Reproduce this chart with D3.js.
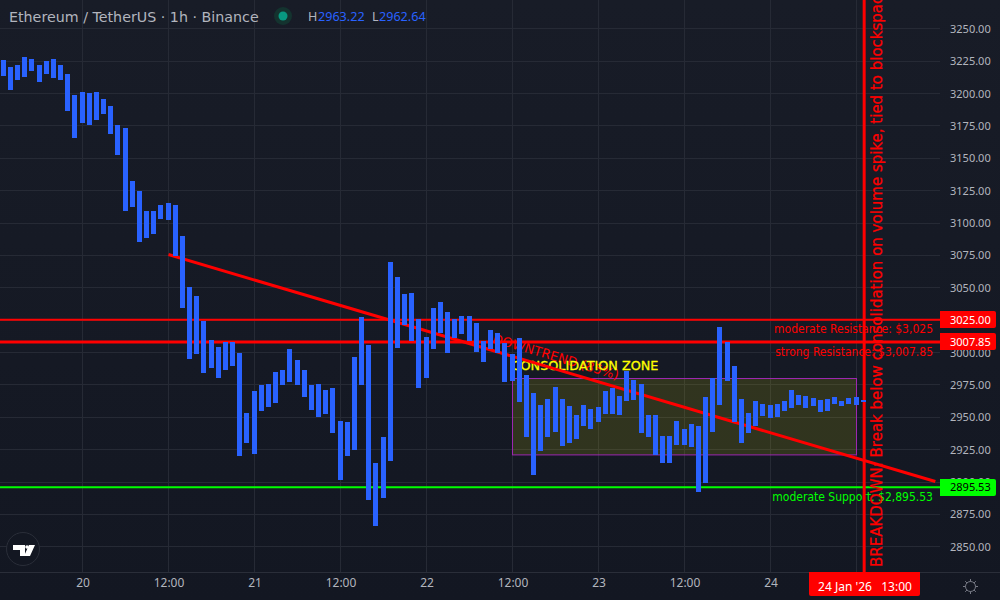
<!DOCTYPE html>
<html><head><meta charset="utf-8">
<style>html,body{margin:0;padding:0;background:#131722;overflow:hidden}svg{display:block}
text{font-family:"Noto Sans",sans-serif}
.dj{font-family:"DejaVu Sans",sans-serif}
.djc{font-family:"DejaVu Sans Condensed","DejaVu Sans",sans-serif}
.axis path,.axis line{display:none}
</style>
<script src="https://cdn.jsdelivr.net/npm/d3@7/dist/d3.min.js"></script>
</head><body><svg id="c" width="1000" height="600"></svg>
<script>
const barHigh=[3225.5,3220.1,3221.7,3227.8,3226.3,3221.7,3224.7,3226.3,3221.7,3214.7,3198.5,3200.8,3200.0,3200.8,3195.4,3190.0,3175.3,3173.0,3132.1,3124.4,3108.9,3108.9,3113.5,3115.1,3113.5,3089.6,3050.2,3043.3,3024.0,3009.3,3003.9,3007.8,3007.8,2999.3,2952.9,2969.9,2974.6,2975.3,2984.6,2986.1,3002.3,2993.8,2986.1,2974.6,2975.3,2970.7,2972.2,2946.8,2946.0,2996.2,3027.1,3005.4,2914.3,2934.4,3069.5,3057.9,3044.8,3045.6,3025.5,3011.6,3034.0,3038.6,3030.9,3025.5,3027.8,3027.8,3022.4,3008.5,3017.0,3014.7,3007.0,2998.5,3010.8,2982.3,2968.4,2959.1,2963.8,2973.0,2963.8,2958.3,2951.4,2959.1,2956.0,2957.6,2969.9,2972.2,2966.1,2985.4,2978.4,2975.3,2951.4,2951.4,2935.2,2935.2,2946.8,2940.6,2944.4,2942.9,2965.3,2980.0,3019.3,3007.8,2989.2,2963.8,2952.9,2962.2,2959.9,2959.1,2959.9,2962.2,2970.7,2966.8,2966.1,2964.5,2963.0,2963.8,2965.3,2962.2,2964.5,2965.3,2963.22];
const barLow=[3213.2,3202.3,3210.1,3212.4,3217.0,3208.5,3214.7,3211.6,3210.1,3186.1,3165.3,3176.9,3175.3,3179.2,3183.8,3168.4,3152.2,3108.9,3112.0,3085.0,3088.1,3091.2,3102.7,3102.0,3074.4,3034.0,2994.6,2998.5,2983.8,2987.7,2980.0,2986.1,2989.2,2919.7,2929.8,2921.3,2954.5,2957.6,2960.7,2974.6,2976.9,2974.6,2965.3,2955.2,2949.8,2952.2,2937.5,2901.2,2919.7,2924.4,2974.6,2885.7,2865.7,2887.3,2915.8,3003.1,3020.9,3008.5,2972.2,2980.0,3002.3,3014.7,2999.3,3010.8,3013.9,3008.5,3000.0,2992.3,3002.3,2999.3,2976.9,2977.6,2961.4,2934.4,2905.0,2923.6,2934.4,2938.2,2927.5,2929.8,2932.8,2942.9,2940.6,2946.0,2952.2,2952.2,2951.4,2962.2,2963.0,2937.5,2934.4,2920.5,2914.3,2914.3,2928.2,2928.2,2926.7,2891.9,2898.9,2938.2,2959.1,2977.6,2946.0,2929.8,2937.5,2942.9,2950.6,2949.1,2949.9,2954.5,2956.8,2959.1,2956.8,2958.3,2953.7,2954.5,2959.9,2958.3,2959.9,2959.1,2962.64];
const priceTicks=[3250,3225,3200,3175,3150,3125,3100,3075,3050,3025,3000,2975,2950,2925,2900,2875,2850];
const timeTickBars=[11,23,35,47,59,71,83,95,107,119];
const timeTickLabels=["20","12:00","21","12:00","22","12:00","23","12:00","24",""];
const levelPrices=[3025,3007.85,2895.53];
const levelNames=["moderate Resistance: $3,025","strong Resistance: $3,007.85","moderate Support: $2,895.53"];
const levelTags=["3025.00","3007.85","2895.53"];
const trendBars=[23,130];
const trendPrices=[3075.3,2900];
const zoneBars=[71,119];
const zonePrices=[2980,2921];
const breakdownBar=[120];
const title="Ethereum / TetherUS · 1h · Binance";
const breakdownText="BREAKDOWN: Break below consolidation on volume spike, tied to blockspace demand";

const W=1000,H=600,plotR=940,plotB=572;
const x=d3.scaleLinear().domain([11,119]).range([82.5,856.5]);
const y=d3.scaleLinear().domain([3250,2850]).range([28.3,546.3]);
const svg=d3.select("#c");
const defs=svg.append("defs");
const g=defs.append("linearGradient").attr("id","bg").attr("x1",0).attr("x2",0).attr("y1",0).attr("y2",1);
g.append("stop").attr("offset",0).attr("stop-color","#181c27");
g.append("stop").attr("offset",1).attr("stop-color","#131722");
svg.append("rect").attr("width",W).attr("height",H).attr("fill","url(#bg)");

const GRID="#262a35",AX="#b2b5be";
svg.append("g").selectAll("line").data(priceTicks).join("line")
  .attr("x1",0).attr("x2",plotR).attr("y1",d=>Math.round(y(d))+.5).attr("y2",d=>Math.round(y(d))+.5)
  .attr("stroke",GRID);
svg.append("g").selectAll("line").data(timeTickBars).join("line")
  .attr("y1",0).attr("y2",plotB).attr("x1",d=>Math.floor(x(d))+.5).attr("x2",d=>Math.floor(x(d))+.5)
  .attr("stroke",GRID);
svg.append("line").attr("x1",0).attr("x2",W).attr("y1",572.5).attr("y2",572.5).attr("stroke","#2a2e39");

svg.append("rect").attr("x",Math.floor(x(zoneBars[0]))+.5).attr("width",x(zoneBars[1])-x(zoneBars[0]))
  .attr("y",Math.round(y(zonePrices[0]))+.5).attr("height",y(zonePrices[1])-y(zonePrices[0]))
  .attr("fill","#ffff00").attr("fill-opacity",.12).attr("stroke","#9c27b0");

const levelColors=["#ff0000","#ff0000","#00ff00"],levelW=[2,3,2];
svg.append("g").selectAll("line").data(levelPrices).join("line")
  .attr("x1",0).attr("x2",plotR).attr("y1",d=>y(d)).attr("y2",d=>y(d))
  .attr("stroke",(d,i)=>levelColors[i]).attr("stroke-width",(d,i)=>levelW[i]);
svg.append("g").selectAll("text").data(levelPrices).join("text").attr("class","djc")
  .attr("x",933).attr("y",(d,i)=>y(d)+[13.5,14.5,14][i]).attr("text-anchor","end")
  .attr("font-size",12).attr("fill",(d,i)=>levelColors[i]).text((d,i)=>levelNames[i]);

const ang=Math.atan2(y(trendPrices[1])-y(trendPrices[0]),x(trendBars[1])-x(trendBars[0]))*180/Math.PI;
svg.append("text").attr("class","dj").attr("transform",`translate(554.5,361) rotate(${ang})`).attr("text-anchor","middle")
  .attr("font-size",13).attr("fill","#ff0000").text("DOWNTREND (85%)");
svg.append("text").attr("class","dj").attr("x",585).attr("y",370).attr("text-anchor","middle")
  .attr("font-size",12.8).attr("fill","#ffff00").attr("stroke","#ffff00").attr("stroke-width",.3).text("CONSOLIDATION ZONE");

svg.append("line").attr("x1",x(trendBars[0])).attr("y1",y(trendPrices[0])).attr("x2",x(trendBars[1])).attr("y2",y(trendPrices[1]))
  .attr("stroke","#ff0000").attr("stroke-width",3);

svg.append("line").attr("x1",x(breakdownBar[0])+.5).attr("x2",x(breakdownBar[0])+.5).attr("y1",0).attr("y2",plotB)
  .attr("stroke","#ff0000").attr("stroke-width",3);
svg.append("text").attr("class","dj").attr("transform","translate(882,567) rotate(-90)").attr("font-size",15)
  .attr("fill","#ff0000").attr("stroke","#ff0000").attr("stroke-width",.25).text(breakdownText);

svg.append("g").selectAll("rect").data(barHigh).join("rect")
  .attr("x",(d,i)=>Math.floor(x(i)-2.5+1e-6)).attr("width",5)
  .attr("y",d=>Math.round(y(d)))
  .attr("height",(d,i)=>Math.max(2,Math.round(y(barLow[i]))-Math.round(y(d))))
  .attr("fill","#2962ff");

const yAxis=d3.axisRight(y).tickValues(priceTicks).tickFormat(d3.format(".2f")).tickSize(0).tickPadding(10);
svg.append("g").attr("class","axis").attr("transform",`translate(${plotR},0.5)`).call(yAxis)
  .selectAll("text").attr("font-size",11).attr("fill",AX);
const xAxis=d3.axisBottom(x).tickValues(timeTickBars).tickFormat((d,i)=>timeTickLabels[i]).tickSize(0).tickPadding(6);
svg.append("g").attr("class","axis").attr("transform",`translate(0,${plotB})`).call(xAxis)
  .selectAll("text").attr("font-size",12).attr("fill",AX);

const tagH=17;
svg.append("g").selectAll("path").data(levelPrices).join("path")
  .attr("d",d=>{const t=Math.round(y(d)-8.5);return `M940 ${t}H994a2 2 0 0 1 2 2V${t+tagH-2}a2 2 0 0 1 -2 2H940Z`;})
  .attr("fill",(d,i)=>levelColors[i]);
svg.append("g").selectAll("text").data(levelPrices).join("text")
  .attr("x",950).attr("y",d=>y(d)+4).attr("font-size",11)
  .attr("fill",(d,i)=>i==2?"#000":"#fff").text((d,i)=>levelTags[i]);

svg.append("path").attr("d","M809 572H920V594a2 2 0 0 1 -2 2H811a2 2 0 0 1 -2 -2Z").attr("fill","#ff0000");
svg.append("text").attr("x",865).attr("y",591).attr("text-anchor","middle").attr("font-size",12).attr("fill","#fff")
  .attr("xml:space","preserve").text("24 Jan '26   13:00");

svg.append("text").attr("class","dj").attr("x",9).attr("y",22).attr("font-size",14.25).attr("fill","#b2b5be").text(title);
svg.append("circle").attr("cx",283).attr("cy",16).attr("r",9).attr("fill","#14332f");
svg.append("circle").attr("cx",283).attr("cy",16).attr("r",4.5).attr("fill","#089981");
const hdr=svg.append("text").attr("y",21).attr("font-size",12.6);
hdr.append("tspan").attr("x",308).attr("fill","#b2b5be").text("H");
hdr.append("tspan").attr("x",318).attr("fill","#2962ff").text("2963.22");
hdr.append("tspan").attr("x",372).attr("fill","#b2b5be").text("L");
hdr.append("tspan").attr("x",379).attr("fill","#2962ff").text("2962.64");

svg.append("circle").attr("cx",23).attr("cy",549).attr("r",16.5).attr("fill","#131722").attr("stroke","#2a2e39");
svg.append("path").attr("fill","#fff").attr("d","M13 545H25V556H20V550H13Z M29 545H35L30 556H24Z");
svg.append("circle").attr("cx",27).attr("cy",547).attr("r",1.8).attr("fill","#fff");

const icon=svg.append("g").attr("transform","translate(970.5,586.5)").attr("stroke","#787b86").attr("fill","none");
icon.append("circle").attr("r",5);
d3.range(8).forEach(k=>{const a=k*Math.PI/4;
  icon.append("line").attr("x1",5*Math.cos(a)).attr("y1",5*Math.sin(a)).attr("x2",7.5*Math.cos(a)).attr("y2",7.5*Math.sin(a));});
</script></body></html>
